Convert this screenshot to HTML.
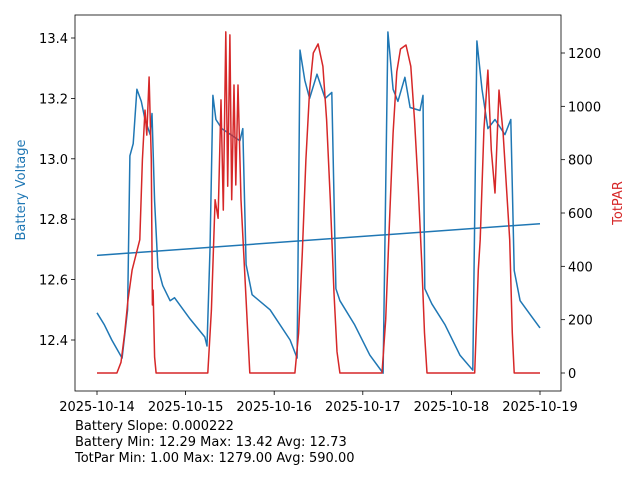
<!DOCTYPE html>
<html><head><meta charset="utf-8"><style>
body{margin:0;background:#fff;font-family:"Liberation Sans","DejaVu Sans",sans-serif}
</style></head><body>
<svg id="chart" width="640" height="480" xmlns="http://www.w3.org/2000/svg" font-family="DejaVu Sans, Liberation Sans, sans-serif">
<rect width="640" height="480" fill="#fff"/>
<g id="plot"></g>
<rect x="75" y="15" width="486" height="376" fill="none" stroke="#000" stroke-width="0.8"/>
<g id="ticks" font-size="13" fill="#000"></g>
<text transform="translate(25,190) rotate(-90)" text-anchor="middle" font-size="13" fill="#1f77b4">Battery Voltage</text>
<text transform="translate(622,203) rotate(-90)" text-anchor="middle" font-size="13" fill="#d62728">TotPAR</text>
<text x="75" y="430" font-size="13">Battery Slope: 0.000222</text>
<text x="75" y="446" font-size="13">Battery Min: 12.29 Max: 13.42 Avg: 12.73</text>
<text x="75" y="462" font-size="13">TotPar Min: 1.00 Max: 1279.00 Avg: 590.00</text>
</svg>
<script>
const batHours=[0,2,4,6.8,8.3,8.9,9.8,10.8,12,13,14.4,14.9,15.6,16.5,17.8,19.8,21,25.2,29.2,29.8,30.6,31.4,32.2,33.8,38.7,39.5,40.4,42,46.9,52.3,54.2,55,56.3,57.6,59.6,61.8,63.6,64.7,65.8,69.8,73.9,77.5,78.8,80.2,81.5,83.4,84.8,87.5,88.3,88.8,90.7,94.3,98.3,101.8,102.9,104.3,105.9,107.8,110.5,112.1,113,114.6,117.6,120];
const batVolts=[12.49,12.45,12.40,12.34,12.50,13.01,13.05,13.23,13.19,13.13,13.08,13.15,12.86,12.64,12.58,12.53,12.54,12.47,12.41,12.38,12.70,13.21,13.13,13.10,13.06,13.10,12.65,12.55,12.50,12.40,12.34,13.36,13.26,13.20,13.28,13.20,13.22,12.57,12.53,12.45,12.35,12.29,13.42,13.23,13.19,13.27,13.17,13.16,13.21,12.57,12.52,12.45,12.35,12.30,13.39,13.23,13.10,13.13,13.08,13.13,12.63,12.53,12.48,12.44];
const parHours=[0,5.4,6.5,7.5,8.4,9.5,11.6,12.3,13,13.5,14.1,14.7,15,15.2,15.6,16,30,31,32,32.8,33.6,34.2,34.9,35.4,36,36.5,37.1,37.6,38.2,39,40.4,41.4,53.6,54.6,55.6,56.6,57.6,58.6,59.9,61.2,62.2,63.2,64.2,65,65.8,77.2,78.2,79.2,80.2,81.2,82.2,83.7,85,86,87,88,88.7,89.4,102.3,103.3,103.8,104.8,105.9,106.8,107.8,108.9,110,111.8,112.5,113,120];
const parVals=[0,0,40,150,274,386,500,800,986,892,1110,800,255,311,60,0,0,236,650,580,1024,611,1279,700,1268,650,1080,705,1080,649,274,0,0,150,450,800,1060,1200,1234,1150,950,650,300,80,0,0,200,560,900,1130,1215,1230,1150,950,700,400,150,0,0,386,500,911,1136,836,675,1061,900,500,150,0,0];
const trendHours=[0,120];
const trendVolts=[12.68,12.785];
const xTickHours=[0,24,48,72,96,120];
const xTickLabels=["2025-10-14","2025-10-15","2025-10-16","2025-10-17","2025-10-18","2025-10-19"];
const yLeftTicks=[12.4,12.6,12.8,13.0,13.2,13.4];
const yRightTicks=[0,200,400,600,800,1000,1200];
const NS="http://www.w3.org/2000/svg";
const xs=h=>97+h*(443/120);
const yl=v=>340-(v-12.4)*302;
const yr=p=>373-p*(320/1200);
const plot=document.getElementById('plot');
const ticks=document.getElementById('ticks');
function line(hs,vs,fy,color,name){
  const p=document.createElementNS(NS,'polyline');
  p.setAttribute('points',hs.map((h,i)=>xs(h).toFixed(1)+','+fy(vs[i]).toFixed(1)).join(' '));
  p.setAttribute('fill','none');p.setAttribute('stroke',color);p.setAttribute('stroke-width','1.5');p.setAttribute('stroke-linejoin','round');
  
  
  plot.appendChild(p);
}
line(batHours,batVolts,yl,'#1f77b4','battery-voltage-line');
line(trendHours,trendVolts,yl,'#1f77b4','battery-trend-line');
line(parHours,parVals,yr,'#d62728','totpar-line');
function tick(x1,y1,x2,y2,tx,ty,anchor,label,name){
  const l=document.createElementNS(NS,'line');
  l.setAttribute('x1',x1);l.setAttribute('y1',y1);l.setAttribute('x2',x2);l.setAttribute('y2',y2);l.setAttribute('stroke','#000');l.setAttribute('stroke-width','0.8');
  
  
  ticks.appendChild(l);
  const t=document.createElementNS(NS,'text');
  t.setAttribute('x',tx);t.setAttribute('y',ty);t.setAttribute('text-anchor',anchor);t.textContent=label;
  
  
  ticks.appendChild(t);
}
xTickHours.forEach((h,i)=>tick(xs(h),391,xs(h),395,xs(h),411,'middle',xTickLabels[i],'x-tick'));
yLeftTicks.forEach(v=>tick(71,yl(v),75,yl(v),68,yl(v)+5,'end',v.toFixed(1),'y-left-tick'));
yRightTicks.forEach(v=>tick(561,yr(v),565,yr(v),568,yr(v)+5,'start',String(v),'y-right-tick'));
</script>
</body></html>
